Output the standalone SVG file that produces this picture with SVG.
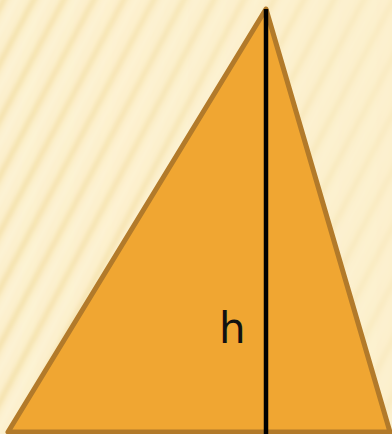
<svg xmlns="http://www.w3.org/2000/svg" width="392" height="434" viewBox="0 0 392 434">
<style>
.tri{fill:#f0a632;stroke:#b27a2a;stroke-width:5;stroke-linejoin:round}
.alt{stroke:#000;stroke-width:4.5}
.lbl{font-family:"DejaVu Sans",sans-serif;font-size:42px;fill:#111}
</style>
<defs>
<filter id="blur" x="-10%" y="-10%" width="120%" height="120%"><feGaussianBlur stdDeviation="2.2"/></filter>
<pattern id="stripes" width="30" height="434" patternUnits="userSpaceOnUse" patternTransform="skewX(-28)">
<rect width="30" height="434" fill="#fcf0cd"/>
<rect x="0" width="7" height="434" fill="#f5e2ae"/>
<rect x="14" width="5" height="434" fill="#fdf3d6"/>
</pattern>
<linearGradient id="fade" x1="0" y1="0" x2="1" y2="0">
<stop offset="0" stop-color="#fff" stop-opacity="1"/>
<stop offset="1" stop-color="#fff" stop-opacity="0.35"/>
</linearGradient>
<mask id="m"><rect width="392" height="434" fill="url(#fade)"/></mask>
<filter id="sh" x="-50%" y="-5%" width="200%" height="110%"><feGaussianBlur stdDeviation="1.5"/></filter>
</defs>
<rect width="392" height="434" fill="#fcf0cd"/>
<g mask="url(#m)">
<rect x="-20" y="-20" width="440" height="480" fill="url(#stripes)" filter="url(#blur)"/>
</g>
<g id="triangle">
<polygon class="tri" points="266,9 8,432 390,432"/>
</g>
<g id="connectors">
<line x1="268" y1="10" x2="268" y2="434" stroke="#8a5a10" stroke-width="5" opacity="0.4" filter="url(#sh)"/>
<line class="alt" x1="266" y1="9" x2="266" y2="434"/>
</g>
<g id="label">
<text class="lbl" x="219" y="343">h</text>
</g>
</svg>
